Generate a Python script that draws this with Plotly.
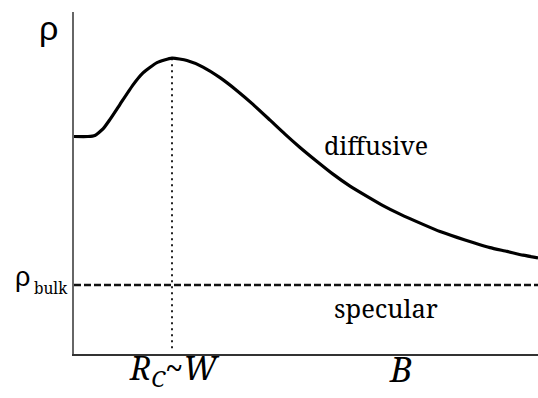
import plotly.graph_objects as go

# Magnetic field B (arbitrary units) and resistivity rho of the diffusive-boundary curve
B_field = [0.00, 0.30, 0.45, 0.625, 0.776, 0.991, 1.272, 1.487, 1.789, 2.112, 2.435,
           2.780, 3.147, 3.513, 3.858, 4.224, 4.547, 4.871, 5.237, 5.582, 5.948,
           6.315, 6.659, 7.026, 7.522, 7.888, 8.254, 8.599, 8.966, 9.332, 9.677, 10.0]
rho_diffusive = [6.36, 6.36, 6.39, 6.58, 6.86, 7.30, 7.87, 8.22, 8.52, 8.65, 8.58,
                 8.39, 8.08, 7.70, 7.30, 6.84, 6.43, 6.04, 5.63, 5.26, 4.91,
                 4.61, 4.34, 4.09, 3.79, 3.58, 3.41, 3.26, 3.11, 3.00, 2.89, 2.81]

# Specular boundary: resistivity stays at the bulk value
rho_bulk = 2.02
B_range = [0.0, 10.0]
rho_range = [0.0, 10.0]

# Field where the cyclotron radius equals the channel width (resistivity peak)
rho_peak = max(rho_diffusive)
B_peak = B_field[rho_diffusive.index(rho_peak)]
B_label_pos = 7.03

serif = "Noto Serif, DejaVu Serif, serif"
sans = "Liberation Sans, DejaVu Sans, sans-serif"


def xp(x):
    return (x - B_range[0]) / (B_range[1] - B_range[0])


def yp(y):
    return (y - rho_range[0]) / (rho_range[1] - rho_range[0])


fig = go.Figure()

# dotted marker at R_C ~ W
fig.add_trace(go.Scatter(
    x=[B_peak, B_peak], y=[0.17, rho_peak], mode="lines",
    line=dict(color="#222222", width=2, dash="2px,4px"),
    hoverinfo="skip", showlegend=False))

# specular (bulk) level
fig.add_trace(go.Scatter(
    x=B_range, y=[rho_bulk, rho_bulk], mode="lines",
    line=dict(color="#111111", width=2.5, dash="7px,3px"),
    hoverinfo="skip", showlegend=False))

# diffusive curve
fig.add_trace(go.Scatter(
    x=B_field, y=rho_diffusive, mode="lines",
    line=dict(color="black", width=3.2, shape="spline", smoothing=0.5),
    hoverinfo="skip", showlegend=False))

annotations = [
    # axis symbol
    dict(x=xp(-0.56), y=yp(9.52), text="ρ", font=dict(family=sans, size=34, color="black"),
         xanchor="center", yanchor="middle"),
    # rho_bulk label: symbol plus subscript
    dict(x=xp(-1.11), y=yp(rho_bulk + 0.22), text="ρ",
         font=dict(family=sans, size=27, color="black"),
         xanchor="center", yanchor="middle"),
    dict(x=xp(-0.905), y=yp(rho_bulk - 0.09), text="bulk",
         font=dict(family=serif, size=15.5, color="black"),
         xanchor="left", yanchor="middle"),
    # curve labels
    dict(x=xp(6.51), y=yp(6.10), text="diffusive", font=dict(family=serif, size=25, color="black"),
         xanchor="center", yanchor="middle"),
    dict(x=xp(6.72), y=yp(1.35), text="specular", font=dict(family=serif, size=25.5, color="black"),
         xanchor="center", yanchor="middle"),
    # field axis marks
    dict(x=xp(B_peak + 0.05), y=yp(0.30), text="<i>R</i><sub><i>C</i></sub>~<i>W</i>",
         font=dict(family=serif, size=32, color="black"),
         xanchor="center", yanchor="top"),
    dict(x=xp(B_label_pos), y=yp(0.30), text="<i>B</i>",
         font=dict(family=serif, size=34, color="black"),
         xanchor="center", yanchor="top"),
]
for a in annotations:
    a.update(xref="paper", yref="paper", showarrow=False)

fig.update_layout(
    width=538, height=398,
    margin=dict(l=74, r=0, t=12, b=44),
    paper_bgcolor="white", plot_bgcolor="white",
    annotations=annotations,
    xaxis=dict(range=B_range, showline=True, linecolor="#333333", linewidth=2,
               showgrid=False, zeroline=False, showticklabels=False, ticks=""),
    yaxis=dict(range=rho_range, showline=True, linecolor="#666666", linewidth=2,
               showgrid=False, zeroline=False, showticklabels=False, ticks=""),
)

fig.write_html("out.html")
